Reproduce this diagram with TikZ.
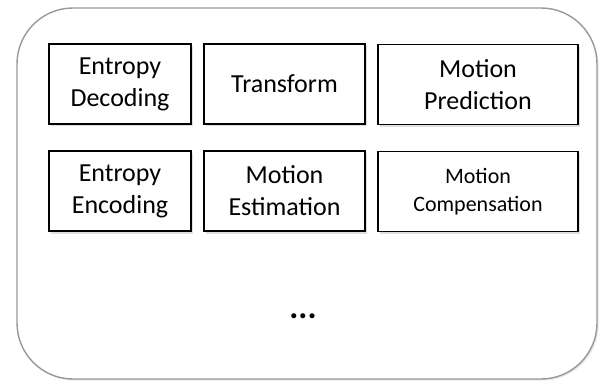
\documentclass[tikz,border=0pt]{standalone}
\usepackage{fontspec}
\setmainfont{Carlito}
\usetikzlibrary{shadows}

\begin{document}
\begin{tikzpicture}[x=1pt,y=-1pt,
  tool/.style={draw=black, line width=1.6pt, fill=white, align=center,
    minimum height=80pt, inner sep=0pt, font=\fontsize{26}{32}\selectfont,
    drop shadow={shadow xshift=2pt, shadow yshift=-2.5pt, opacity=0.25}},
  small/.style={font=\fontsize{22}{28}\selectfont}]
\useasboundingbox (0,0) rectangle (599,382);
% outer container
\draw[draw=gray!80, line width=1.4pt, fill=white, rounded corners=56pt,
  drop shadow={shadow xshift=1.5pt, shadow yshift=-1.5pt, opacity=0.2}]
  (17,8) rectangle (597,379);
% first row
\node[tool, minimum width=142pt] (entdec) at (120,84) {Entropy\\Decoding};
\node[tool, minimum width=161pt] (trans) at (284.5,84) {Transform};
\node[tool, minimum width=200pt] (mpred) at (478,84.5) {Motion\\Prediction};
% second row
\node[tool, minimum width=142pt] (entenc) at (120,191) {Entropy\\Encoding};
\node[tool, minimum width=161pt] (mest) at (284.5,191) {Motion\\Estimation};
\node[tool, small, minimum width=200pt] (mcomp) at (478,191.5) {Motion\\Compensation};
% more tools
\node[font=\fontsize{34}{34}\selectfont\bfseries] (more) at (303,316) {...};
\end{tikzpicture}
\end{document}
